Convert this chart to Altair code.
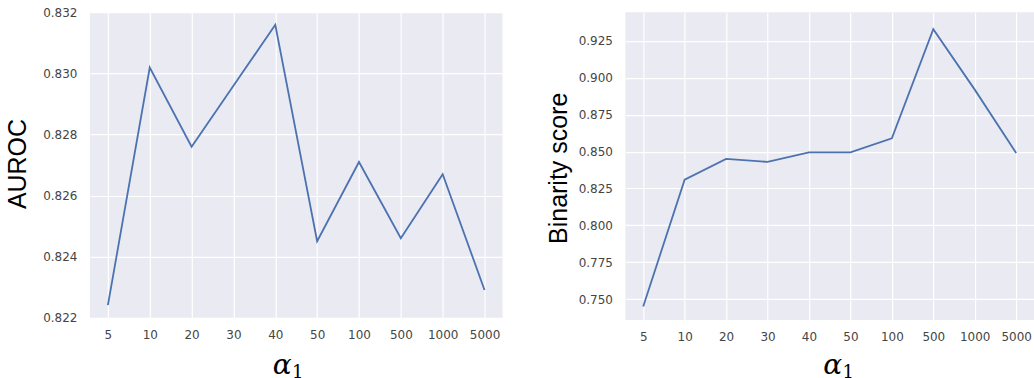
import altair as alt
import pandas as pd

# alpha_1 values swept on the x axis (shown as evenly spaced categories)
alphas = ["5", "10", "20", "30", "40", "50", "100", "500", "1000", "5000"]
# AUROC for each alpha_1
auroc = [0.8224, 0.8302, 0.8276, 0.8296, 0.8316, 0.8245, 0.8271, 0.8246, 0.8267, 0.8229]
# Binarity score for each alpha_1
binarity = [0.745, 0.831, 0.845, 0.843, 0.8495, 0.8494, 0.859, 0.933, 0.892, 0.849]

auroc_ticks = [0.822, 0.824, 0.826, 0.828, 0.830, 0.832]
binarity_ticks = [0.750, 0.775, 0.800, 0.825, 0.850, 0.875, 0.900, 0.925]

df = pd.DataFrame({"alpha": alphas, "auroc": auroc, "binarity": binarity})
subscript = pd.DataFrame({"sub": ["1"]})

LINE = "#4C72B0"
LABEL = "#444444"


def x_axis(title_x, title_y):
    return alt.Axis(
        title="α",
        labelAngle=0,
        labelFont="DejaVu Sans",
        labelFontSize=12,
        labelColor=LABEL,
        labelPadding=12,
        ticks=False,
        domain=False,
        grid=True,
        gridColor="white",
        gridWidth=1.2,
        titleFont="DejaVu Serif",
        titleFontStyle="italic",
        titleFontWeight="normal",
        titleFontSize=28,
        titleColor="black",
        titleAlign="center",
        titleBaseline="alphabetic",
        titleX=title_x,
        titleY=title_y,
    )


def y_axis(title, ticks, title_x, title_y):
    return alt.Axis(
        title=title,
        values=ticks,
        format=".3f",
        labelFont="DejaVu Sans",
        labelFontSize=12,
        labelColor=LABEL,
        labelPadding=13,
        ticks=False,
        domain=False,
        grid=True,
        gridColor="white",
        gridWidth=1.2,
        titleFont="Liberation Sans",
        titleFontWeight="normal",
        titleFontSize=25,
        titleColor="black",
        titleAngle=270,
        titleAlign="center",
        titleBaseline="alphabetic",
        titleX=title_x,
        titleY=title_y,
    )


def subscript_one(px, py):
    # the "1" of the x-axis title alpha_1, set as a lowered upright digit
    return alt.Chart(subscript).mark_text(
        font="DejaVu Serif", fontSize=18, color="black",
        align="center", baseline="alphabetic",
    ).encode(text="sub:N", x=alt.value(px), y=alt.value(py))


# blank panel header: fixes the top margin above both panels
def spacer():
    return alt.TitleParams(" ", fontSize=1, offset=4.7)


left_line = alt.Chart(df).mark_line(color=LINE, strokeWidth=1.8).encode(
    x=alt.X("alpha:O", sort=alphas,
            scale=alt.Scale(type="point", padding=0.43),
            axis=x_axis(192, 56)),
    y=alt.Y("auroc:Q",
            scale=alt.Scale(domain=[0.821984, 0.832016], nice=False, zero=False),
            axis=y_axis("AUROC", auroc_ticks, -64, 151.5)),
)
left = alt.layer(left_line, subscript_one(208, 366.5)).properties(
    width=413, height=306, title=spacer(),
)

right_line = alt.Chart(df).mark_line(color=LINE, strokeWidth=1.8).encode(
    x=alt.X("alpha:O", sort=alphas,
            scale=alt.Scale(type="point", padding=0.43),
            axis=x_axis(207, 54)),
    y=alt.Y("binarity:Q",
            scale=alt.Scale(domain=[0.73591, 0.9445], nice=False, zero=False),
            axis=y_axis("Binarity score", binarity_ticks, -59, 155.8)),
)
right = alt.layer(right_line, subscript_one(223, 366.5)).properties(
    width=409, height=308, title=spacer(),
)

chart = alt.hconcat(left, right, spacing=44).properties(
    padding={"left": 6, "top": 0, "right": 0, "bottom": 0},
    background="white",
).configure_view(
    fill="#EAEAF2",
    stroke=None,
)

chart.save("out.html", embed_options={"renderer": "svg", "actions": False})
